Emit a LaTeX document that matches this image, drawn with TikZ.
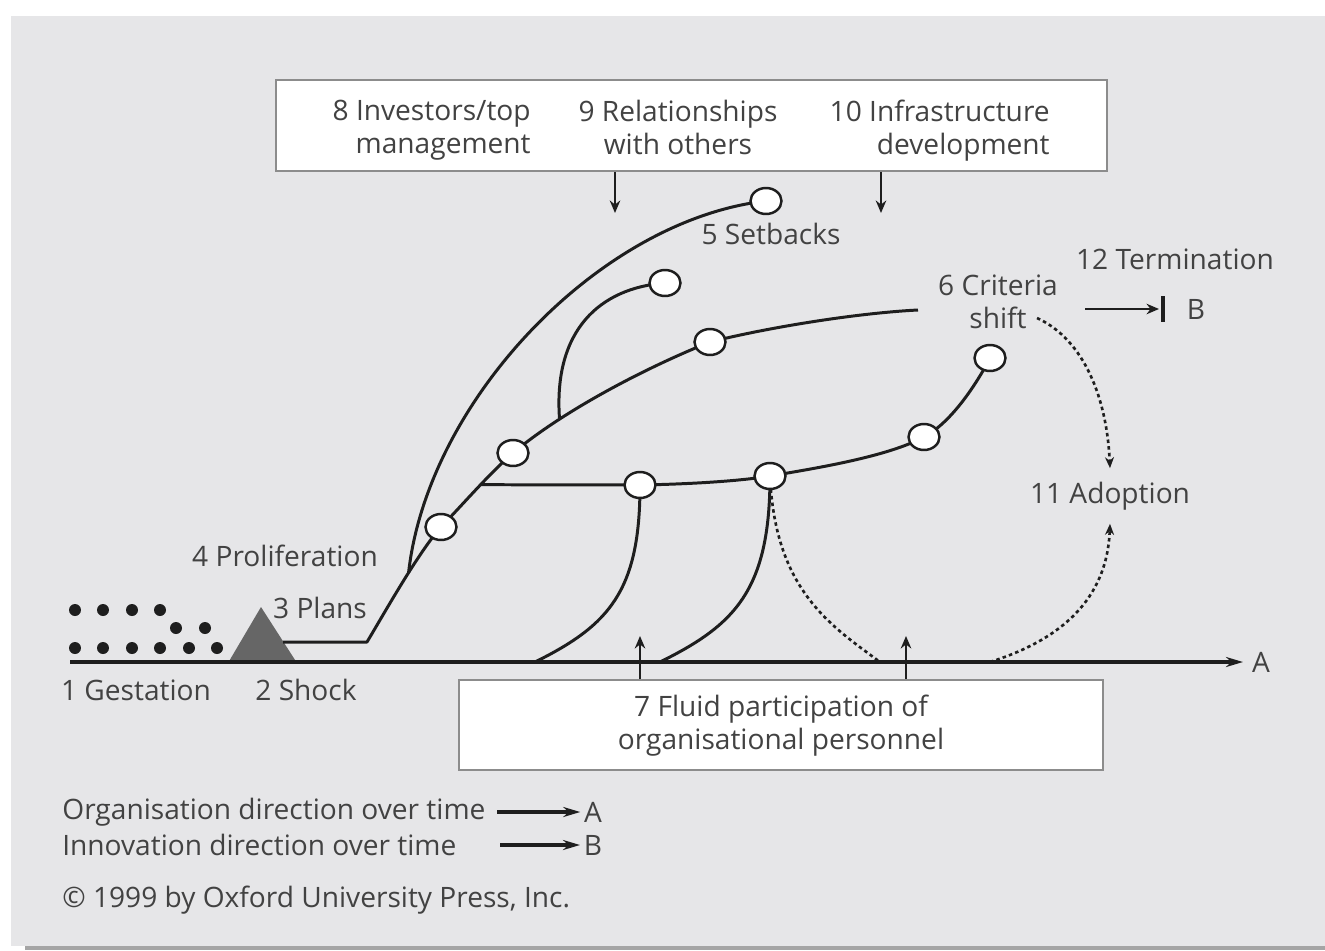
\documentclass[tikz,border=0pt]{standalone}
\usepackage{fontspec}
\setmainfont{Open Sans}
\usetikzlibrary{arrows.meta,shapes.geometric}
\definecolor{bg}{HTML}{E6E6E8}
\definecolor{txt}{HTML}{424242}
\definecolor{ln}{HTML}{1E1E1E}
\definecolor{boxline}{HTML}{8C8C8C}
\definecolor{tri}{HTML}{666666}
\definecolor{shadow}{HTML}{A5A5A5}
\begin{document}
\begin{tikzpicture}[x=0.02cm,y=-0.02cm,
 lbl/.style={font=\fontsize{16}{18.8}\selectfont, text=txt, inner sep=0pt},
 wbox/.style={draw=boxline, line width=1.1pt, fill=white},
 curve/.style={draw=ln, line width=1.7pt},
 dotl/.style={draw=ln, line width=1.5pt, dash pattern=on 2pt off 1.8pt},
 arr/.style={-{Stealth[length=0.34cm,width=0.2cm]}},
 sarr/.style={-{Stealth[length=0.25cm,width=0.21cm]}},
 darr/.style={-{Stealth[length=0.22cm,width=0.18cm]}},
 bubble/.style={ellipse, draw=ln, line width=1.4pt, fill=white, minimum width=0.62cm, minimum height=0.52cm, inner sep=0pt},
 seed/.style={circle, fill=ln, minimum size=0.24cm, inner sep=0pt},
 adopt/.style={lbl, minimum height=1.1cm}]

\useasboundingbox (0,0) rectangle (1325,950);
\fill[white] (0,0) rectangle (1325,950);
\fill[bg] (11,16) rectangle (1325,946);
\fill[shadow] (25,946) rectangle (1325,950);

% top box
\node[wbox, minimum width=16.62cm, minimum height=1.82cm] (box8) at (691.5,125.5) {};
\node[lbl, anchor=north east, align=right] (t8) at (531,99.5) {8 Investors/top\\management};
\node[lbl, anchor=north, align=center] (t9) at (678,99.5) {9 Relationships\\with others};
\node[lbl, anchor=north east, align=right] (t10) at (1050,99.5) {10 Infrastructure\\development};
\coordinate (d1) at (615,213);
\coordinate (d2) at (881,213);
\draw[ln, line width=1.6pt, sarr] (d1 |- box8.south) -- (d1);
\draw[ln, line width=1.6pt, sarr] (d2 |- box8.south) -- (d2);

% bottom box
\node[wbox, minimum width=12.88cm, minimum height=1.8cm] (box7) at (781,725) {};
\node[lbl, align=center] (t7) at (781,726) {7 Fluid participation of\\organisational personnel};
\coordinate (u1) at (640,636);
\coordinate (u2) at (906,636);
\draw[ln, line width=1.6pt, sarr] (u1 |- box7.north) -- (u1);
\draw[ln, line width=1.6pt, sarr] (u2 |- box7.north) -- (u2);

% gestation dots
\foreach \x [count=\i] in {75,103,132,160} \node[seed] (ga\i) at (\x,610) {};
\foreach \x [count=\i] in {176,205} \node[seed] (gb\i) at (\x,628) {};
\foreach \x [count=\i] in {75,103,132,160,189,217} \node[seed] (gc\i) at (\x,648) {};

% shock triangle
\fill[tri] (228,663) -- (261,607) -- (297,663) -- cycle;

% axis
\node[lbl] (A) at (1261,662) {A};
\coordinate (ax0) at (70,662);
\draw[ln, line width=2pt, arr] (ax0) -- ([xshift=-5pt]A.west);

% coordinates of the path
\coordinate (m0) at (283,642);
\coordinate (m1) at (367,642);
\coordinate (cd) at (441,527);
\coordinate (cc) at (513,453);
\coordinate (cb) at (710,342);
\coordinate (mend) at (918,310);
\coordinate (c5) at (766,201);
\coordinate (ca) at (665,283);
\coordinate (ce) at (640,485);
\coordinate (cf) at (770,476);
\coordinate (cg) at (924,437);
\coordinate (ch) at (990,358);
\coordinate (ax1) at (535,662);
\coordinate (ax2) at (660,662);
\coordinate (ax3) at (880,662);
\coordinate (ax4) at (990,662);
\coordinate (sh) at (1037,318);

\draw[curve, line join=round] (m0) -- (m1)
   .. controls (385,612) and (418,553) .. (cd) coordinate[pos=0.58] (j4)
   .. controls (465,502) and (489,474) .. (cc) coordinate[pos=0.55] (j2)
   .. controls (563,411) and (645,368) .. (cb) coordinate[pos=0.27] (j3)
   .. controls (770,327) and (858,313) .. (mend);
\draw[curve] (j4) .. controls (428,400) and (600,220) .. (c5);
\draw[curve] (j3) .. controls (553,330) and (600,288) .. (ca);
\draw[curve] (j2) -- (ce);
\draw[curve] plot[smooth, tension=0.6] coordinates {(ce) (cf) (cg) (ch)};
\draw[curve] (ce) .. controls (640,590) and (610,625) .. (ax1);
\draw[curve] (cf) .. controls (770,590) and (735,625) .. (ax2);
\draw[dotl] (cf) .. controls (775,590) and (830,625) .. (ax3);

% bubbles
\foreach \c in {c5,ca,cb,cc,cd,ce,cf,cg,ch} \node[bubble] (b-\c) at (\c) {};

% labels
\node[lbl] (l5) at (771,234) {5 Setbacks};
\node[lbl] (l4) at (285,556) {4 Proliferation};
\node[lbl] (l3) at (320,608) {3 Plans};
\node[lbl] (l1) at (136,690) {1 Gestation};
\node[lbl] (l2) at (306,690) {2 Shock};
\node[lbl, align=center] (l6) at (998,302) {6 Criteria\\shift};
\node[adopt] (l11) at (1110,496) {11 Adoption};
\node[lbl] (l12) at (1175,259) {12 Termination};
\node[lbl] (B) at (1196,309) {B};

\draw[dotl, darr] (ax4) .. controls (1060,640) and (1107,600) .. (l11.south);
\draw[dotl, darr] (sh) .. controls (1085,340) and (1107,400) .. (l11.north);

\coordinate (tb0) at (1085,309);
\coordinate (tb1) at (1159,309);
\draw[ln, line width=1.6pt, sarr] (tb0) -- (tb1);
\draw[ln, line width=2.6pt] (1163,296) -- (1163,322);

% legend
\node[lbl, anchor=west] (leg1) at (62,812.5) {Organisation direction over time};
\node[lbl, anchor=west] (leg2) at (62,845) {Innovation direction over time};
\node[lbl] (legA) at (593,812) {A};
\node[lbl] (legB) at (593,845) {B};
\coordinate (la0) at (497,812);
\coordinate (lb0) at (500,845);
\draw[ln, line width=1.8pt, arr] (la0) -- ([xshift=-2pt]legA.west);
\draw[ln, line width=1.8pt, arr] (lb0) -- ([xshift=-2pt]legB.west);
\node[lbl, anchor=west] (copy) at (62,900) {© 1999 by Oxford University Press, Inc.};
\end{tikzpicture}
\end{document}
